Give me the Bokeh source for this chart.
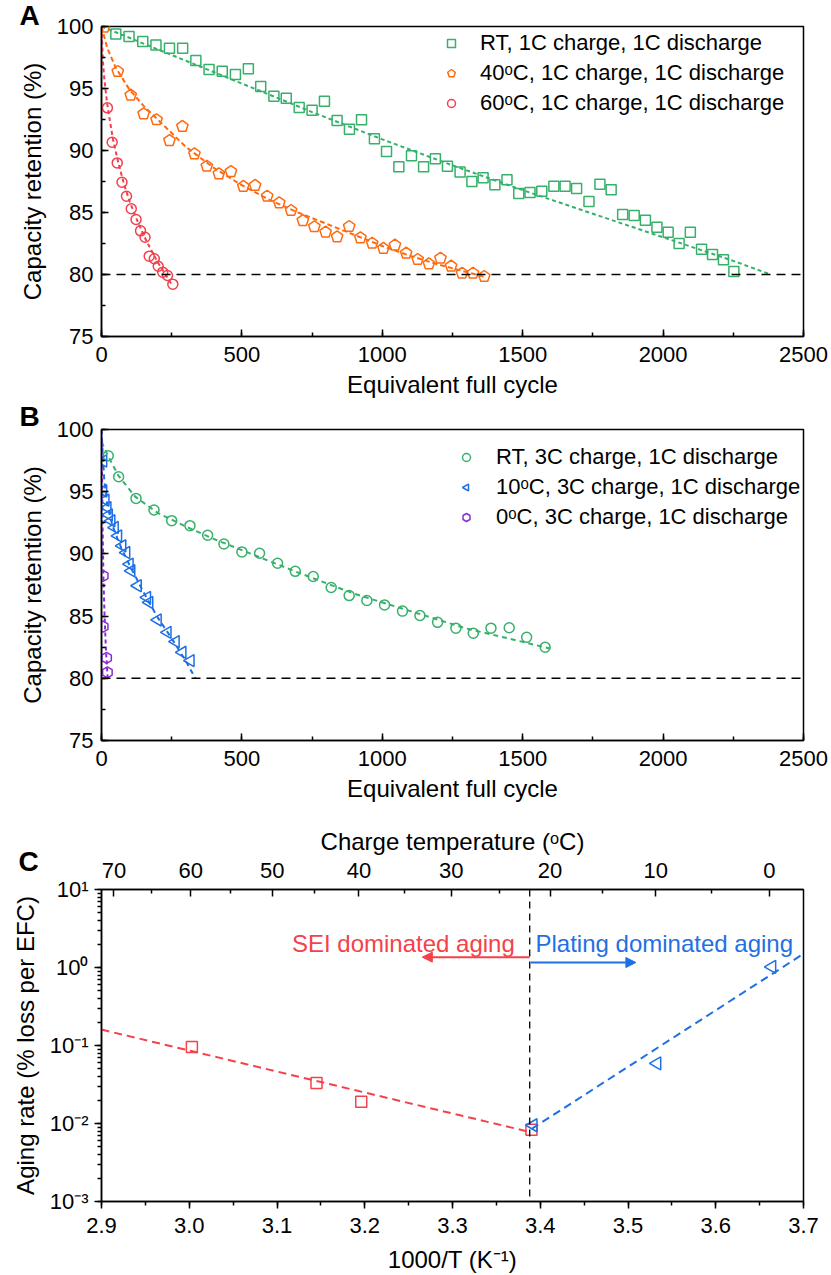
import math
from bokeh.plotting import figure
from bokeh.models import (Range1d, SingleIntervalTicker, FixedTicker, LogTicker, LinearAxis,
                          Span, Label, Arrow, NormalHead, Legend, LegendItem, Title,
                          CustomJSTickFormatter, PrintfTickFormatter)
from bokeh.layouts import column
from bokeh.embed import file_html
from bokeh.resources import INLINE

FONT = "Liberation Sans"
GREEN = "#36B06A"
ORANGE = "#FF6A10"
RED = "#F2404E"
BLUE = "#1E6FE6"
PURPLE = "#8A2BD8"
C_RED = "#F5414A"
C_BLUE = "#1F6FE5"

# ---------------- Panel A data ----------------
A_RT_X = [51, 98, 147, 194, 242, 289, 336, 383, 430, 477, 523, 567, 614, 658, 704, 750, 794, 839, 883, 926,
          972, 1015, 1059, 1104, 1147, 1189, 1232, 1277, 1319, 1359, 1401, 1444, 1486, 1526, 1568, 1611, 1651,
          1692, 1736, 1775, 1815, 1856, 1897, 1937, 1978, 2018, 2057, 2097, 2137, 2176, 2215, 2252]
A_RT_Y = [99.4, 99.2, 98.8, 98.5, 98.25, 98.25, 97.26, 96.53, 96.4, 96.13, 96.6, 95.16, 94.38, 94.22, 93.47,
          93.25, 93.98, 92.42, 91.72, 92.48, 90.94, 89.92, 88.69, 89.57, 88.69, 89.33, 88.73, 88.27, 87.5, 87.8,
          87.23, 87.64, 86.53, 86.61, 86.72, 87.12, 87.12, 86.94, 85.89, 87.28, 86.83, 84.84, 84.76, 84.38,
          83.81, 83.41, 82.5, 83.41, 82.04, 81.61, 81.19, 80.24]
A_RT_FIT_X = [0, 250, 500, 750, 1000, 1250, 1500, 1750, 2000, 2250, 2383]
A_RT_FIT_Y = [100, 97.7, 95.4, 93.1, 90.9, 88.8, 86.8, 84.9, 83.0, 81.1, 80.0]

A_40_X = [10, 58, 104, 150, 196, 242, 288, 331, 375, 418, 461, 505, 547, 590, 633, 675, 717, 758, 798, 839,
          882, 922, 964, 1004, 1045, 1085, 1126, 1166, 1207, 1245, 1284, 1323, 1363]
A_40_Y = [99.95, 96.37, 94.46, 92.96, 92.48, 90.8, 91.94, 89.73, 88.73, 88.12, 88.3, 87.1, 87.18, 86.31, 85.78,
          85.16, 84.35, 83.85, 83.41, 83.04, 83.87, 82.96, 82.52, 82.1, 82.37, 81.72, 81.21, 80.86, 81.31,
          80.67, 80.1, 80.1, 79.84]
A_40_FIT_X = [0, 20, 50, 100, 150, 200, 300, 400, 500, 600, 700, 800, 900, 1000, 1100, 1200, 1300, 1365]
A_40_FIT_Y = [100, 98.3, 96.7, 94.9, 93.6, 92.5, 90.3, 88.6, 87.2, 86.0, 85.0, 84.1, 83.2, 82.3, 81.5, 80.8,
              80.2, 79.8]

A_60_X = [21, 38, 56, 73, 89, 106, 123, 139, 155, 170, 188, 202, 218, 235, 254]
A_60_Y = [93.44, 90.67, 89.0, 87.44, 86.31, 85.3, 84.44, 83.52, 83.0, 81.48, 81.27, 80.67, 80.19, 79.92, 79.22]
A_60_FIT_X = [0, 5, 10, 20, 40, 60, 80, 100, 130, 160, 200, 250]
A_60_FIT_Y = [100, 97.2, 95.8, 93.8, 91.0, 89.0, 87.3, 85.9, 84.2, 82.7, 81.0, 79.2]

# ---------------- Panel B data ----------------
B_RT_X = [24, 61, 123, 187, 250, 315, 378, 436, 500, 563, 627, 690, 754, 818, 882, 945, 1008, 1072, 1134,
          1197, 1262, 1324, 1387, 1452, 1514, 1580]
B_RT_Y = [97.89, 96.2, 94.46, 93.53, 92.67, 92.27, 91.5, 90.8, 90.16, 90.05, 89.25, 88.6, 88.18, 87.3, 86.65,
          86.25, 85.9, 85.4, 85.05, 84.5, 84.03, 83.63, 84.03, 84.06, 83.3, 82.5]
B_RT_FIT_X = [0, 25, 60, 120, 200, 300, 400, 500, 700, 900, 1100, 1300, 1450, 1596]
B_RT_FIT_Y = [99.0, 97.8, 96.3, 94.6, 93.3, 92.2, 91.2, 90.3, 88.5, 86.8, 85.4, 84.0, 83.2, 82.4]

B_10_X = [6, 6, 14, 21, 26, 35, 47, 59, 74, 88, 100, 106, 129, 162, 170, 200, 235, 264, 288, 317]
B_10_Y = [97.47, 95.07, 94.32, 93.72, 93.14, 92.66, 92.12, 91.45, 90.65, 90.11, 89.18, 88.64, 87.44, 86.5,
          86.1, 84.69, 83.69, 82.95, 82.09, 81.42]
B_10_FIT_X = [0, 5, 10, 20, 40, 70, 100, 150, 200, 250, 300, 334]
B_10_FIT_Y = [100, 97.8, 95.9, 94.0, 92.2, 90.5, 89.1, 86.9, 84.9, 83.2, 81.4, 80.0]

B_0_X = [6, 6, 18, 21]
B_0_Y = [88.24, 84.15, 81.64, 80.48]
B_0_FIT_X = [0, 4, 7, 11, 16, 22]
B_0_FIT_Y = [100, 92.0, 88.0, 85.0, 82.2, 80.0]

EOL_THRESHOLD = 80  # 80 % capacity retention line

# ---------------- Panel C data ----------------
SEI_X = [3.003, 3.145, 3.196, 3.390]
SEI_Y = [0.096, 0.033, 0.019, 0.0083]
SEI_FIT_X = [2.9, 3.39]
SEI_FIT_Y = [0.16, 0.0077]
PLT_X = [3.392, 3.533, 3.664]
PLT_Y = [0.0095, 0.059, 1.02]
PLT_FIT_X = [3.39, 3.70]
PLT_FIT_Y = [0.0085, 1.5]
RT_INV_T = 3.388                     # 1000/T at room temperature (boundary line)
TOP_TICK_TEMPS = [70, 60, 50, 40, 30, 20, 10, 0]
TOP_MINOR_TEMPS = [65, 55, 45, 35, 25, 15, 5]
SEI_ARROW = dict(x_start=3.388, x_end=3.2656, y=1.358)
PLT_ARROW = dict(x_start=3.389, x_end=3.509, y=1.158)
SEI_TEXT = dict(x=3.371, y=2.05)
PLT_TEXT = dict(x=3.3946, y=2.05)


def style(p):
    p.outline_line_color = "black"
    p.outline_line_width = 1.5
    p.outline_line_alpha = 1
    p.xgrid.visible = False
    p.ygrid.visible = False
    for ax in p.axis:
        ax.axis_line_color = "black"
        ax.axis_line_width = 1.5
        ax.major_tick_line_color = "black"
        ax.major_tick_line_width = 1.5
        ax.minor_tick_line_color = "black"
        ax.minor_tick_line_width = 1.5
        ax.major_label_text_font = FONT
        ax.major_label_text_font_size = "22px"
        ax.major_label_text_color = "black"
        ax.axis_label_text_font = FONT
        ax.axis_label_text_font_size = "24px"
        ax.axis_label_text_font_style = "normal"
        ax.axis_label_text_color = "black"


def ticks_in(ax):
    ax.major_tick_in = 7
    ax.major_tick_out = 0
    ax.minor_tick_in = 4
    ax.minor_tick_out = 0


def ticks_out(ax):
    ax.major_tick_in = 0
    ax.major_tick_out = 7
    ax.minor_tick_in = 0
    ax.minor_tick_out = 4


def panel_letter(text, offset, standoff):
    return Title(text=text, align="left", vertical_align="bottom", offset=offset, standoff=standoff,
                 text_font=FONT, text_font_size="28px", text_font_style="bold", text_color="black")


def make_cycle_fig(height, top, bottom):
    p = figure(width=831, height=height, x_range=Range1d(0, 2500), y_range=Range1d(75, 100),
               output_backend="svg", toolbar_location=None, title=None,
               min_border_left=93, min_border_right=28, min_border_top=top, min_border_bottom=bottom)
    style(p)
    p.xaxis.ticker = SingleIntervalTicker(interval=500, num_minor_ticks=2)
    p.yaxis.ticker = SingleIntervalTicker(interval=5, num_minor_ticks=2)
    ticks_in(p.xaxis[0])
    ticks_in(p.yaxis[0])
    p.xaxis.axis_label = "Equivalent full cycle"
    p.yaxis.axis_label = "Capacity retention (%)"
    p.xaxis.major_label_standoff = 10
    p.yaxis.major_label_standoff = 8
    p.xaxis.axis_label_standoff = 6
    p.yaxis.axis_label_standoff = 8
    p.add_layout(Span(location=EOL_THRESHOLD, dimension="width", line_color="black",
                      line_width=1.5, line_dash="9 6"))
    return p


def make_legend(items, x, y, standoff):
    return Legend(items=items, location=(x, y), border_line_color=None, background_fill_alpha=0,
                  label_text_font=FONT, label_text_font_size="22px", label_text_color="black",
                  glyph_width=20, glyph_height=20, label_height=26, spacing=4, padding=0, margin=0,
                  label_standoff=standoff)


# ---------------- Panel A ----------------
pA = make_cycle_fig(400, 26, 64)
pA.line(A_RT_FIT_X, A_RT_FIT_Y, line_color=GREEN, line_width=2, line_dash="4 3")
pA.line(A_40_FIT_X, A_40_FIT_Y, line_color=ORANGE, line_width=2, line_dash="5 3")
pA.line(A_60_FIT_X, A_60_FIT_Y, line_color=RED, line_width=2, line_dash="4 3")
rA1 = pA.scatter(A_RT_X, A_RT_Y, marker="square", size=10, fill_color=None, line_color=GREEN, line_width=1.5)
rA2 = pA.ngon(x=A_40_X, y=A_40_Y, radius=6, radius_units="screen", n=5, angle=0,
              fill_color=None, line_color=ORANGE, line_width=1.5)
rA3 = pA.scatter(A_60_X, A_60_Y, marker="circle", size=10, fill_color=None, line_color=RED, line_width=1.5)
pA.add_layout(make_legend([
    LegendItem(label="RT, 1C charge, 1C discharge", renderers=[rA1]),
    LegendItem(label="40ᵒC, 1C charge, 1C discharge", renderers=[rA2]),
    LegendItem(label="60ᵒC, 1C charge, 1C discharge", renderers=[rA3]),
], 340, 220, 19))
pA.add_layout(panel_letter("A", -82, -8), "above")

# ---------------- Panel B ----------------
pB = make_cycle_fig(415, 29, 75)
pB.line(B_RT_FIT_X, B_RT_FIT_Y, line_color=GREEN, line_width=2, line_dash="5 4")
pB.line(B_10_FIT_X, B_10_FIT_Y, line_color=BLUE, line_width=2, line_dash="5 4")
pB.line(B_0_FIT_X, B_0_FIT_Y, line_color=PURPLE, line_width=2, line_dash="4 3")
rB1 = pB.scatter(B_RT_X, B_RT_Y, marker="circle", size=10, fill_color=None, line_color=GREEN, line_width=1.5)
rB2 = pB.ngon(x=B_10_X, y=B_10_Y, radius=7, radius_units="screen", n=3, angle=math.pi / 2,
              fill_color=None, line_color=BLUE, line_width=1.5)
rB3 = pB.ngon(x=B_0_X, y=B_0_Y, radius=5.5, radius_units="screen", n=6, angle=0,
              fill_color=None, line_color=PURPLE, line_width=1.5)
pB.add_layout(make_legend([
    LegendItem(label="RT, 3C charge, 1C discharge", renderers=[rB1]),
    LegendItem(label="10ᵒC, 3C charge, 1C discharge", renderers=[rB2]),
    LegendItem(label="0ᵒC, 3C charge, 1C discharge", renderers=[rB3]),
], 355, 210, 20))
pB.add_layout(panel_letter("B", -82, -5), "above")

# ---------------- Panel C ----------------
pC = figure(width=831, height=460, x_range=Range1d(2.9, 3.7), y_range=Range1d(0.001, 10),
            y_axis_type="log", output_backend="svg", toolbar_location=None, title=None,
            min_border_left=101, min_border_right=19, min_border_top=74, min_border_bottom=72)
pC.add_layout(LinearAxis(), "above")
style(pC)
xb = pC.below[0]
xb.ticker = SingleIntervalTicker(interval=0.1, num_minor_ticks=2)
xb.formatter = PrintfTickFormatter(format="%.1f")
xb.axis_label = "1000/T (K⁻¹)"
ticks_out(xb)
xb.major_label_standoff = 9
xb.axis_label_standoff = 10
yl = pC.yaxis[0]
yl.ticker = LogTicker(num_minor_ticks=10)
yl.formatter = CustomJSTickFormatter(code="""
const sup = {"-": "\u207b", "0": "\u2070", "1": "\u00b9", "2": "\u00b2", "3": "\u00b3",
             "4": "\u2074", "5": "\u2075", "6": "\u2076", "7": "\u2077", "8": "\u2078", "9": "\u2079"};
const e = Math.round(Math.log10(tick));
return "10" + String(e).split("").map(c => sup[c]).join("");
""")
yl.axis_label = "Aging rate (% loss per EFC)"
ticks_out(yl)
yl.major_label_standoff = 6
yl.axis_label_standoff = 8
xt = pC.above[0]
xt.ticker = FixedTicker(ticks=[1000 / (t + 273.15) for t in TOP_TICK_TEMPS],
                        minor_ticks=[1000 / (t + 273.15) for t in TOP_MINOR_TEMPS])
xt.formatter = CustomJSTickFormatter(code="return Math.round(1000 / tick - 273.15).toFixed(0);")
ticks_in(xt)
xt.major_label_standoff = 12
# panel letter (zero-height panel, drawn level with the tick labels) and the top axis title
pC.add_layout(panel_letter("C", -83, -34), "above")
pC.add_layout(Title(text="Charge temperature (ᵒC)", align="center", vertical_align="middle", standoff=7,
                    text_font=FONT, text_font_size="24px", text_font_style="normal", text_color="black"),
              "above")

pC.add_layout(Span(location=RT_INV_T, dimension="height", line_color="black", line_width=1.3,
                   line_dash="7 5"))
pC.line(SEI_FIT_X, SEI_FIT_Y, line_color=C_RED, line_width=2, line_dash="8 5")
pC.line(PLT_FIT_X, PLT_FIT_Y, line_color=C_BLUE, line_width=2, line_dash="8 5")
pC.scatter(SEI_X, SEI_Y, marker="square", size=11, fill_color=None, line_color=C_RED, line_width=1.5)
pC.ngon(x=PLT_X, y=PLT_Y, radius=7.5, radius_units="screen", n=3, angle=math.pi / 2,
        fill_color=None, line_color=C_BLUE, line_width=1.5)
pC.add_layout(Arrow(x_start=SEI_ARROW["x_start"], x_end=SEI_ARROW["x_end"],
                    y_start=SEI_ARROW["y"], y_end=SEI_ARROW["y"], line_color=C_RED, line_width=2,
                    end=NormalHead(size=10, fill_color=C_RED, line_color=C_RED)))
pC.add_layout(Arrow(x_start=PLT_ARROW["x_start"], x_end=PLT_ARROW["x_end"],
                    y_start=PLT_ARROW["y"], y_end=PLT_ARROW["y"], line_color=C_BLUE, line_width=2,
                    end=NormalHead(size=10, fill_color=C_BLUE, line_color=C_BLUE)))
pC.add_layout(Label(x=SEI_TEXT["x"], y=SEI_TEXT["y"], text="SEI dominated aging", text_align="right",
                    text_baseline="alphabetic", text_font=FONT, text_font_size="24px", text_color=C_RED))
pC.add_layout(Label(x=PLT_TEXT["x"], y=PLT_TEXT["y"], text="Plating dominated aging", text_align="left",
                    text_baseline="alphabetic", text_font=FONT, text_font_size="24px", text_color=C_BLUE))

layout = column(pA, pB, pC)
open("out.html", "w").write(file_html(layout, INLINE))
